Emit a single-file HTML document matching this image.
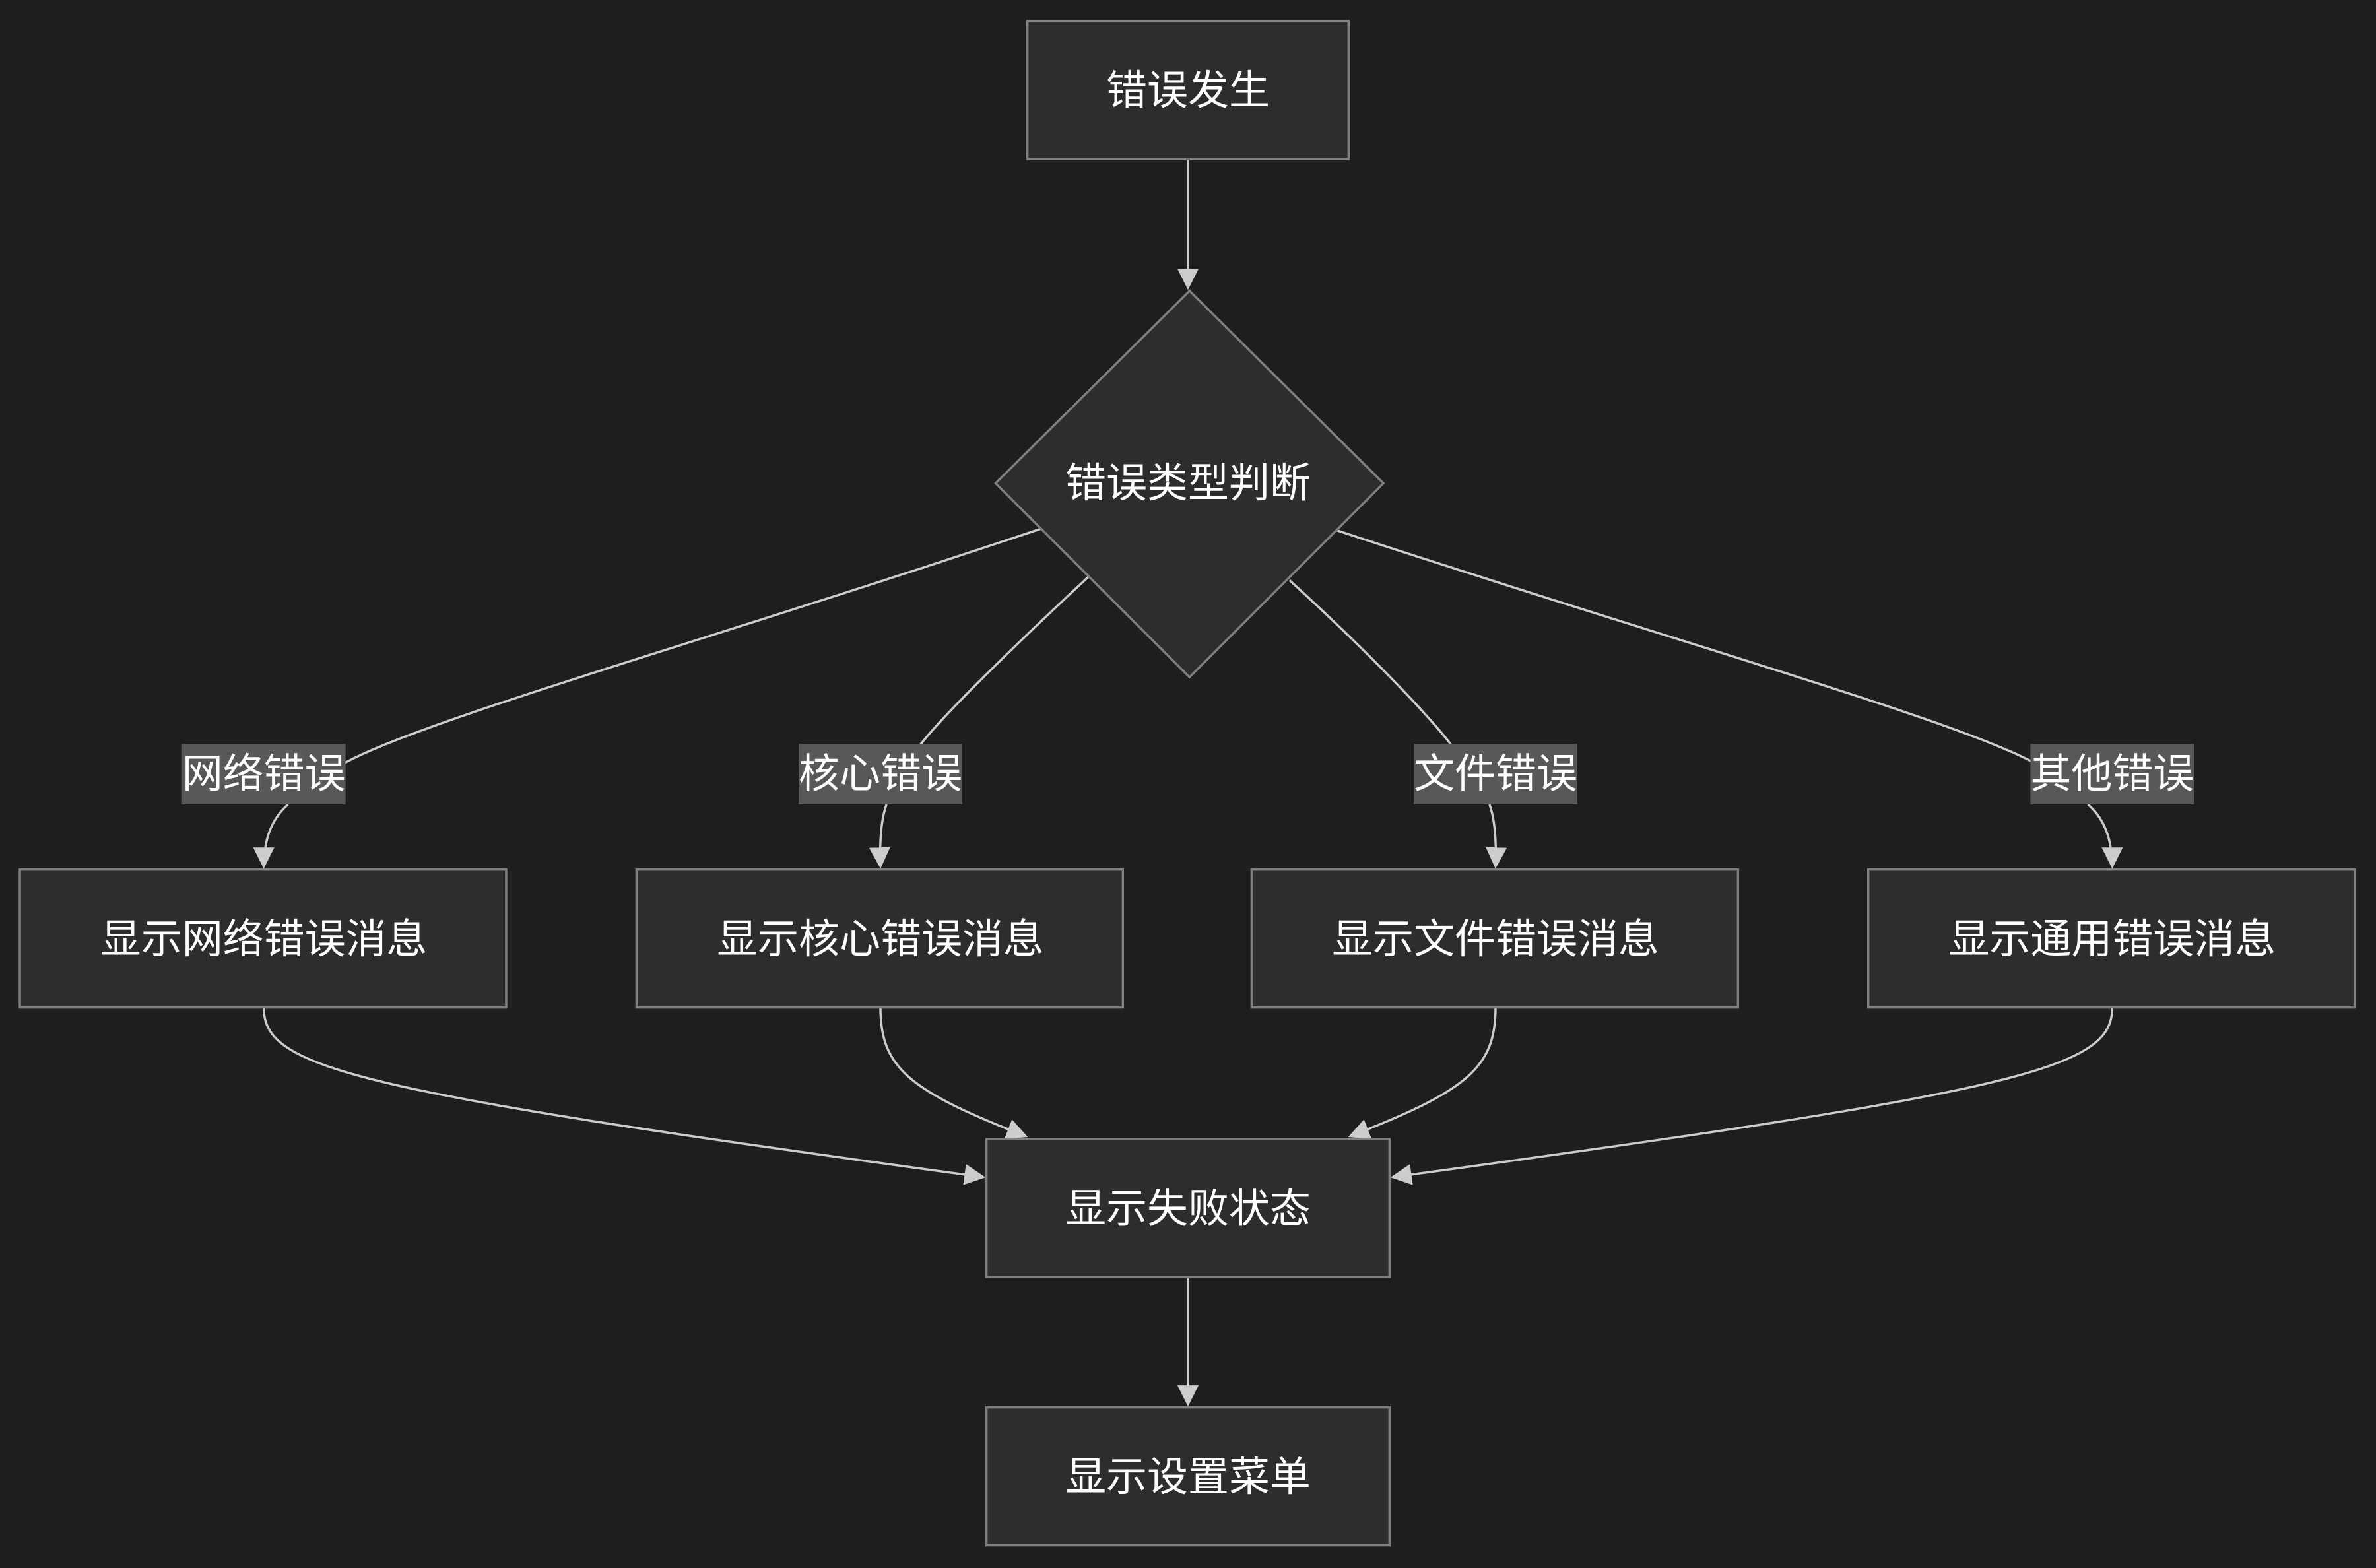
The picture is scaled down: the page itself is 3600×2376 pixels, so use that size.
<!DOCTYPE html>
<html><head><meta charset="utf-8"><style>
html,body{margin:0;padding:0;background:#1e1e1e;width:3600px;height:2376px;overflow:hidden}
svg{display:block}
text{font-family:"Liberation Sans","Noto Sans CJK SC",sans-serif;fill:#fff;font-size:27px;text-anchor:middle;dominant-baseline:central}
.n{fill:#2d2d2d;stroke:#808080;stroke-width:1.5}
.e{fill:none;stroke:#cccccc;stroke-width:1.5}
.l{fill:#585858}
</style></head><body>
<svg width="3600" height="2376" viewBox="0 0 1568 1035" xmlns="http://www.w3.org/2000/svg">
<defs>
<marker id="b" viewBox="0 0 10 10" refX="9" refY="5" markerWidth="14" markerHeight="14" markerUnits="userSpaceOnUse" orient="auto"><path d="M0,0L10,5L0,10z" fill="#cccccc"/></marker></defs>
<rect width="1568" height="1035" fill="#1e1e1e"/>
<path class="e" d="M784,105L784,190" marker-end="url(#b)"/>
<path class="e" d="M687,349C460,425 270,478 225,505"/>
<path class="e" d="M190,531Q174,545 174,572" marker-end="url(#b)"/>
<path class="e" d="M718,381C660,435 620,475 607,492"/>
<path class="e" d="M585,531Q580,545 581,572" marker-end="url(#b)"/>
<path class="e" d="M851,383C908,435 945,475 958,492"/>
<path class="e" d="M983,531Q988,545 987,572" marker-end="url(#b)"/>
<path class="e" d="M882,350C1110,425 1300,478 1345,505"/>
<path class="e" d="M1378,531Q1394,545 1394,572" marker-end="url(#b)"/>
<path class="e" d="M174,665C174,705 230,720 649,777" marker-end="url(#b)"/>
<path class="e" d="M581,665C581,705 600,720 677,750" marker-end="url(#b)"/>
<path class="e" d="M987,665C987,705 968,720 891,750" marker-end="url(#b)"/>
<path class="e" d="M1394,665C1394,705 1338,720 919,777" marker-end="url(#b)"/>
<path class="e" d="M784,843L784,927" marker-end="url(#b)"/>
<rect class="n" x="678" y="14" width="212" height="91"/><text x="784" y="60">错误发生</text>
<polygon class="n" points="785,192 913,319 785,447 657,319"/><text x="784" y="319">错误类型判断</text>
<rect class="l" x="120" y="491" width="108" height="40"/><text x="174" y="511">网络错误</text>
<rect class="l" x="527" y="491" width="108" height="40"/><text x="581" y="511">核心错误</text>
<rect class="l" x="933" y="491" width="108" height="40"/><text x="987" y="511">文件错误</text>
<rect class="l" x="1340" y="491" width="108" height="40"/><text x="1394" y="511">其他错误</text>
<rect class="n" x="13" y="574" width="321" height="91"/><text x="174" y="620">显示网络错误消息</text>
<rect class="n" x="420" y="574" width="321" height="91"/><text x="581" y="620">显示核心错误消息</text>
<rect class="n" x="826" y="574" width="321" height="91"/><text x="987" y="620">显示文件错误消息</text>
<rect class="n" x="1233" y="574" width="321" height="91"/><text x="1394" y="620">显示通用错误消息</text>
<rect class="n" x="651" y="752" width="266" height="91"/><text x="784" y="798">显示失败状态</text>
<rect class="n" x="651" y="929" width="266" height="91"/><text x="784" y="975">显示设置菜单</text>
</svg>
</body></html>
